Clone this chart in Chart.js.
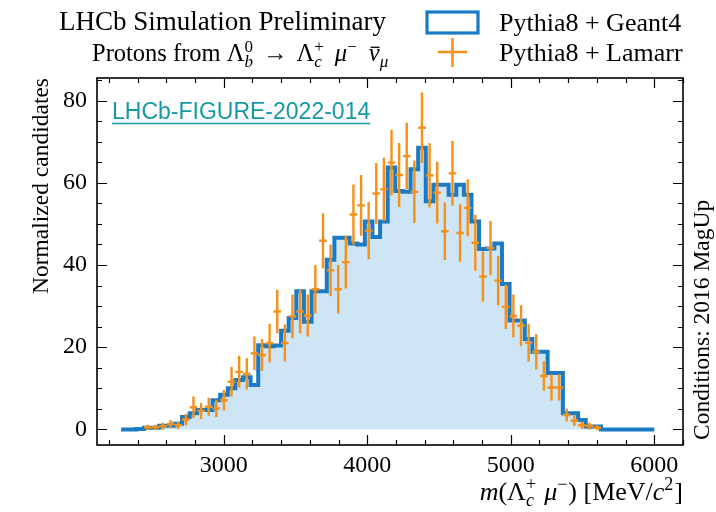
<!DOCTYPE html>
<html><head><meta charset="utf-8">
<script src="https://cdn.jsdelivr.net/npm/chart.js@4/dist/chart.umd.min.js"></script>
<style>html,body{margin:0;padding:0;background:#fff}</style>
</head><body>
<canvas id="c" width="716" height="512"></canvas>
<script>
// ---- data ----
const binLow = 2285, binHigh = 6000, nBins = 70;
const geant4Counts = [0,0,0.1,0.4,0.4,0.9,0.9,1.4,3.0,3.9,
  4.7,4.7,7.1,8.4,10.0,12.0,12.7,10.8,20.5,20.2,
  20.4,24.0,27.1,33.6,26.2,33.6,33.6,41.3,46.6,46.6,
  45.2,45.0,50.6,46.8,50.6,63.7,58.0,57.8,63.3,68.5,
  55.5,59.5,59.5,57.1,59.5,57.1,50.6,43.9,44.0,45.2,
  35.4,26.5,26.5,22.0,18.9,18.9,13.7,13.7,3.9,3.9,
  2.3,0.7,0.7,0,0,0,0,0,0,0];
const lamarrFirstBin = 3;
const lamarrCounts = [0.5,0.5,0.8,1.3,1.0,2.4,5.4,4.5,5.5,5.1,
  7.1,11.6,14.0,13.5,18.5,18.1,21.0,28.7,21.0,27.5,
  28.7,27.7,34.1,45.9,38.7,34.1,40.7,52.3,54.5,48.4,
  57.4,58.4,64.9,61.9,66.5,57.8,73.4,61.8,57.6,48.2,
  62.3,47.8,53.9,45.4,37.2,44.1,36.2,29.8,27.6,25.2,
  21.1,18.9,13.0,10.2,10.2,3.5,2.1,1.0,0.8,0.4];
const lamarrErrors = [0.6,0.6,0.8,1.0,0.9,1.4,2.6,2.0,2.2,2.1,
  2.5,3.6,3.9,3.8,4.1,3.9,4.7,5.3,4.5,5.3,
  5.3,5.1,5.9,6.7,6.3,5.9,6.4,7.3,7.4,7.0,
  7.4,7.7,8.0,7.8,8.1,7.6,8.6,7.8,7.5,7.0,
  7.9,7.0,6.9,6.8,6.1,6.6,6.0,5.4,5.2,5.0,
  4.6,4.3,3.6,3.2,3.2,1.6,1.3,0.9,0.8,0.6];
const xTickValues = [3000, 4000, 5000, 6000];
const yTickValues = [0, 20, 40, 60, 80];
const xMinorStep = 200, yMinorStep = 5;
const seriesNames = ['Pythia8 + Geant4', 'Pythia8 + Lamarr'];

// ---- styling ----
const SERIF = '"Liberation Serif", "Times New Roman", serif';
const BLUE = '#1a7bc4', BLUE_FILL = '#cde5f5', ORANGE = '#f5901a';

const binWidth = (binHigh - binLow) / nBins;
const edges = Array.from({length: nBins + 1}, (_, k) => binLow + k * binWidth);
const geant4Points = edges.map((e, k) => ({x: e, y: geant4Counts[Math.min(k, nBins - 1)]}));
const lamarrPoints = lamarrCounts.map((v, i) => ({x: binLow + (lamarrFirstBin + i + 0.5) * binWidth, y: v}));

function drawRich(ctx, x, y, tokens, base, align) {
  const f = (it, sz) => `${it ? 'italic ' : ''}${sz}px ${SERIF}`;
  const scr = Math.round(base * 0.7);
  const width = tok => {
    if (tok.gap) return tok.gap;
    if (tok.ss) { let a = 0; tok.ss.forEach(p => { ctx.font = f(p.it, scr); a = Math.max(a, ctx.measureText(p.t).width); }); return a + 1; }
    ctx.font = f(tok.it, base); return ctx.measureText(tok.t).width;
  };
  const total = tokens.reduce((s, t) => s + width(t), 0);
  let cx = align === 'right' ? x - total : x;
  ctx.textAlign = 'left'; ctx.textBaseline = 'alphabetic';
  tokens.forEach(tok => {
    const w = width(tok);
    if (tok.gap) { cx += w; return; }
    if (tok.ss) {
      tok.ss.forEach(p => { ctx.font = f(p.it, scr); ctx.fillText(p.t, cx, y + (p.up ? -base * 0.38 : base * 0.24)); });
    } else {
      ctx.font = f(tok.it, base); ctx.fillText(tok.t, cx, y);
      if (tok.bar) { ctx.save(); ctx.lineWidth = 1.3; ctx.beginPath(); ctx.moveTo(cx + 2, y - base * 0.56); ctx.lineTo(cx + w, y - base * 0.56); ctx.stroke(); ctx.restore(); }
    }
    cx += w;
  });
}

const decorPlugin = {
  id: 'decor',
  afterDatasetsDraw(chart) {
    const {ctx, chartArea: a, scales: {x, y}} = chart;
    // Lamarr error bars
    ctx.save();
    ctx.strokeStyle = ORANGE; ctx.lineWidth = 2.4;
    lamarrPoints.forEach((p, i) => {
      const px = x.getPixelForValue(p.x);
      const x0 = x.getPixelForValue(p.x - binWidth / 2), x1 = x.getPixelForValue(p.x + binWidth / 2);
      const py = y.getPixelForValue(p.y);
      const y0 = y.getPixelForValue(p.y - lamarrErrors[i]), y1 = y.getPixelForValue(p.y + lamarrErrors[i]);
      ctx.beginPath();
      ctx.moveTo(px, y0); ctx.lineTo(px, y1);
      ctx.moveTo(x0, py); ctx.lineTo(x1, py);
      ctx.stroke();
    });
    ctx.restore();
    // frame + inward ticks on all sides
    ctx.save();
    ctx.strokeStyle = '#000'; ctx.lineWidth = 1.6;
    ctx.strokeRect(a.left, a.top, a.right - a.left, a.bottom - a.top);
    ctx.lineWidth = 1.2;
    ctx.beginPath();
    for (let v = Math.ceil(x.min / xMinorStep) * xMinorStep; v <= x.max; v += xMinorStep) {
      const len = xTickValues.includes(v) ? 10 : 5;
      const px = Math.round(x.getPixelForValue(v)) + 0.5;
      ctx.moveTo(px, a.bottom); ctx.lineTo(px, a.bottom - len);
      ctx.moveTo(px, a.top); ctx.lineTo(px, a.top + len);
    }
    for (let v = Math.ceil(y.min / yMinorStep) * yMinorStep; v <= y.max; v += yMinorStep) {
      const len = yTickValues.includes(v) ? 10 : 5;
      const py = Math.round(y.getPixelForValue(v)) + 0.5;
      ctx.moveTo(a.left, py); ctx.lineTo(a.left + len, py);
      ctx.moveTo(a.right, py); ctx.lineTo(a.right - len, py);
    }
    ctx.stroke();
    ctx.restore();
  },
  afterDraw(chart) {
    const {ctx, chartArea: a} = chart;
    ctx.save();
    ctx.fillStyle = '#000'; ctx.strokeStyle = '#000';
    // header
    ctx.font = `27px ${SERIF}`; ctx.textBaseline = 'alphabetic'; ctx.textAlign = 'right';
    ctx.fillText('LHCb Simulation Preliminary', 386, 30);
    drawRich(ctx, 92, 61, [
      {t: 'Protons from '}, {t: 'Λ'}, {ss: [{t: 'b', it: true}, {t: '0', up: true}]},
      {gap: 9}, {t: '→'}, {gap: 9}, {t: 'Λ'}, {ss: [{t: 'c', it: true}, {t: '+', up: true}]},
      {gap: 10}, {t: 'μ', it: true}, {ss: [{t: '−', up: true}]},
      {gap: 11}, {t: 'ν', it: true, bar: true}, {ss: [{t: 'μ', it: true}]}
    ], 24.5, 'left');
    // legend
    ctx.strokeStyle = BLUE; ctx.lineWidth = 3.2;
    ctx.strokeRect(427, 12, 51, 21);
    ctx.strokeStyle = ORANGE; ctx.lineWidth = 2.6;
    ctx.beginPath(); ctx.moveTo(438, 52); ctx.lineTo(467, 52); ctx.moveTo(452.5, 38); ctx.lineTo(452.5, 67); ctx.stroke();
    ctx.fillStyle = '#000'; ctx.font = `26px ${SERIF}`; ctx.textAlign = 'left';
    ctx.fillText(seriesNames[0], 499, 31);
    ctx.fillText(seriesNames[1], 499, 61);
    // figure id
    ctx.fillStyle = '#1699a6'; ctx.strokeStyle = '#1699a6';
    ctx.font = '23px "Liberation Sans", Arial, sans-serif';
    ctx.fillText('LHCb-FIGURE-2022-014', 112, 119);
    const w = ctx.measureText('LHCb-FIGURE-2022-014').width;
    ctx.lineWidth = 1.5; ctx.beginPath(); ctx.moveTo(112, 123.5); ctx.lineTo(112 + w, 123.5); ctx.stroke();
    // x-axis title
    ctx.fillStyle = '#000'; ctx.strokeStyle = '#000';
    drawRich(ctx, a.right, 500, [
      {t: 'm', it: true}, {t: '(Λ'}, {ss: [{t: 'c', it: true}, {t: '+', up: true}]},
      {gap: 7}, {t: 'μ', it: true}, {ss: [{t: '−', up: true}]},
      {t: ') [MeV/'}, {t: 'c', it: true}, {ss: [{t: '2', up: true}]}, {t: ']'}
    ], 26, 'right');
    // conditions (rotated)
    ctx.save();
    ctx.translate(709, 440); ctx.rotate(-Math.PI / 2);
    ctx.font = `23.5px ${SERIF}`; ctx.textAlign = 'left'; ctx.textBaseline = 'alphabetic';
    ctx.fillText('Conditions: 2016 MagUp', 0, 0);
    ctx.restore();
    ctx.restore();
  }
};

new Chart(document.getElementById('c'), {
  type: 'scatter',
  data: {
    datasets: [
      {type: 'line', label: seriesNames[0], data: geant4Points, stepped: true,
       borderColor: BLUE, borderWidth: 4, backgroundColor: BLUE_FILL, fill: 'origin',
       pointRadius: 0, tension: 0, order: 2},
      {type: 'scatter', label: seriesNames[1], data: lamarrPoints, pointRadius: 0,
       showLine: false, order: 1}
    ]
  },
  options: {
    responsive: false, animation: false, devicePixelRatio: 1,
    layout: {padding: {left: 0, right: 33, top: 78, bottom: 0}},
    plugins: {legend: {display: false}, tooltip: {enabled: false}},
    scales: {
      x: {type: 'linear', min: 2117, max: 6200,
          grid: {display: false, drawTicks: false, tickLength: 0}, border: {display: false},
          afterBuildTicks: s => { s.ticks = xTickValues.map(v => ({value: v})); },
          afterFit: s => { s.height = 67; },
          ticks: {color: '#000', padding: 6, maxRotation: 0, autoSkip: false,
                  font: {family: SERIF, size: 24}, callback: v => String(v)}},
      y: {type: 'linear', min: -3.8, max: 85.5,
          grid: {display: false, drawTicks: false, tickLength: 0}, border: {display: false},
          afterBuildTicks: s => { s.ticks = yTickValues.map(v => ({value: v})); },
          afterFit: s => { s.width = 97; },
          ticks: {color: '#000', padding: 10, autoSkip: false,
                  font: {family: SERIF, size: 24}, callback: v => String(v)},
          title: {display: true, text: 'Normalized candidates', align: 'end', color: '#000',
                  font: {family: SERIF, size: 23.5}, padding: {top: 28, bottom: 0}}}
    }
  },
  plugins: [decorPlugin]
});
</script>
</body></html>
